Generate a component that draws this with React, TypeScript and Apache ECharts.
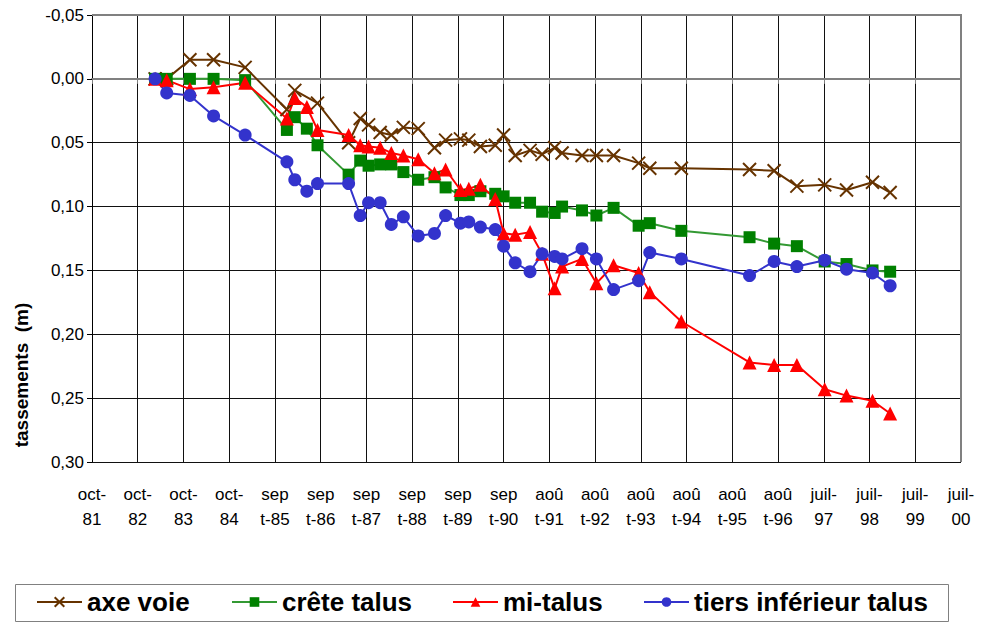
import React, { useEffect, useRef } from "react";
import * as echarts from "echarts";

// Tick labels of the date axis (one every 360 days from Oct 1981)
const tickLabels = [
  "oct-\n81", "oct-\n82", "oct-\n83", "oct-\n84",
  "sep\nt-85", "sep\nt-86", "sep\nt-87", "sep\nt-88", "sep\nt-89", "sep\nt-90",
  "aoû\nt-91", "aoû\nt-92", "aoû\nt-93", "aoû\nt-94", "aoû\nt-95", "aoû\nt-96",
  "juil-\n97", "juil-\n98", "juil-\n99", "juil-\n00",
];

// Survey dates (decimal years)
const surveyYears = [
  1983.16, 1983.41, 1983.91, 1984.42, 1985.10, 1986.00, 1986.17, 1986.43, 1986.66,
  1987.33, 1987.58, 1987.76, 1988.01, 1988.25, 1988.51, 1988.83, 1989.18, 1989.42,
  1989.74, 1989.92, 1990.17, 1990.49, 1990.67, 1990.92, 1991.24, 1991.50, 1991.77,
  1991.93, 1992.36, 1992.67, 1993.04, 1993.58, 1993.82, 1994.50, 1995.97, 1996.50,
  1996.99, 1997.59, 1998.06, 1998.62, 1999.00,
];

// Settlements (m)
const axeVoie = [
  0, 0, -0.015, -0.015, -0.009, 0.024, 0.009, null, 0.019,
  0.050, 0.031, 0.036, 0.042, 0.044, 0.038, 0.039, 0.054, 0.048,
  0.047, 0.048, 0.053, 0.052, 0.044, 0.060, 0.056, 0.059, 0.054,
  0.058, 0.060, 0.060, 0.060, 0.066, 0.070, 0.070, 0.071, 0.072,
  0.084, 0.083, 0.087, 0.081, 0.089,
];
const creteTalus = [
  0, 0, 0, 0, 0.001, 0.040, 0.030, 0.039, 0.052,
  0.075, 0.064, 0.068, 0.067, 0.067, 0.073, 0.079, 0.077, 0.085,
  0.091, 0.091, 0.088, 0.090, 0.092, 0.097, 0.097, 0.104, 0.105,
  0.100, 0.103, 0.107, 0.101, 0.115, 0.113, 0.119, 0.124, 0.129,
  0.131, 0.143, 0.145, 0.150, 0.151,
];
const miTalus = [
  0, 0.001, 0.008, 0.0065, 0.003, 0.031, 0.015, 0.022, 0.040,
  0.044, 0.052, 0.053, 0.054, 0.058, 0.060, 0.063, 0.074, 0.071,
  0.087, 0.086, 0.083, 0.094, 0.121, 0.122, 0.120, 0.137, 0.164,
  0.147, 0.141, 0.160, 0.146, 0.152, 0.167, 0.190, 0.222, 0.224,
  0.224, 0.243, 0.248, 0.252, 0.262,
];
const tiersInferieur = [
  0, 0.011, 0.013, 0.029, 0.044, 0.065, 0.079, 0.088, 0.082,
  0.082, 0.107, 0.097, 0.097, 0.114, 0.108, 0.123, 0.121, 0.107,
  0.113, 0.112, 0.116, 0.118, 0.131, 0.144, 0.151, 0.137, 0.139,
  0.141, 0.133, 0.141, 0.165, 0.158, 0.136, 0.141, 0.154, 0.143,
  0.147, 0.142, 0.149, 0.152, 0.162,
];

const seriesNames = ["axe voie", "crête talus", "mi-talus", "tiers inférieur talus"];

const START_YEAR = 1981.8;
const TICK_DAYS = 360;
const FONT = "'Liberation Sans', Arial, sans-serif";

const toDays = (y: number) => (y - START_YEAR) * 365.25;
const pairs = (values: (number | null)[]) =>
  surveyYears
    .map((y, i) => [toDays(y), values[i]] as [number, number | null])
    .filter((p) => p[1] !== null);

export default function App() {
  const ref = useRef<HTMLDivElement>(null);

  useEffect(() => {
    if (!ref.current) return;
    const chart = echarts.init(ref.current, null, { renderer: "svg" });

    const left = 92, top = 15, right = 961, bottom = 462;

    const legendCommon = {
      top: 589,
      itemWidth: 45,
      itemHeight: 12,
      itemGap: 0,
      padding: 0,
      textStyle: { fontSize: 26, fontWeight: "bold", color: "#000", fontFamily: FONT },
    };

    chart.setOption({
      animation: false,
      backgroundColor: "#fff",
      textStyle: { fontFamily: FONT },
      grid: { left, top, right: 981 - right, bottom: 623 - bottom, containLabel: false },
      xAxis: {
        type: "value",
        min: 0,
        max: TICK_DAYS * (tickLabels.length - 1),
        interval: TICK_DAYS,
        axisLine: { show: true, lineStyle: { color: "#808080", width: 2 } },
        axisTick: { show: true, length: 5, lineStyle: { color: "#808080" } },
        splitLine: { show: true, lineStyle: { color: "#111", width: 1 } },
        axisLabel: {
          formatter: (v: number) => tickLabels[Math.round(v / TICK_DAYS)] ?? "",
          fontSize: 17,
          lineHeight: 25,
          color: "#000",
          margin: 20,
          fontFamily: FONT,
          showMinLabel: true,
          showMaxLabel: true,
        },
      },
      yAxis: {
        type: "value",
        inverse: true,
        min: -0.05,
        max: 0.3,
        interval: 0.05,
        axisLine: { show: true, lineStyle: { color: "#000", width: 1 } },
        axisTick: { show: true, length: 5, lineStyle: { color: "#000" } },
        splitLine: { show: true, lineStyle: { color: "#111", width: 1 } },
        axisLabel: {
          formatter: (v: number) => v.toFixed(2).replace(".", ","),
          fontSize: 17,
          color: "#000",
          margin: 8,
          fontFamily: FONT,
        },
      },
      legend: [
        { ...legendCommon, left: 36, data: [seriesNames[0]] },
        { ...legendCommon, left: 231, data: [seriesNames[1]] },
        { ...legendCommon, left: 452, data: [seriesNames[2]] },
        { ...legendCommon, left: 643, data: [seriesNames[3]] },
      ],
      graphic: [
        {
          type: "polyline",
          silent: true,
          z: 10,
          shape: { points: [[left, top], [right, top], [right, bottom]] },
          style: { stroke: "#808080", lineWidth: 2, fill: "none" },
        },
        {
          type: "rect",
          silent: true,
          z: -1,
          shape: { x: 15.5, y: 584.5, width: 933, height: 37 },
          style: { stroke: "#808080", lineWidth: 1, fill: "#fff" },
        },
        {
          type: "text",
          silent: true,
          x: 21,
          y: 375,
          rotation: Math.PI / 2,
          style: {
            text: "tassements  (m)",
            fontSize: 19,
            fontWeight: "bold",
            fontFamily: FONT,
            fill: "#000",
            align: "center",
            verticalAlign: "middle",
          },
        },
      ],
      series: [
        {
          name: seriesNames[0],
          type: "line",
          data: pairs(axeVoie),
          symbol: "path://M0,0L10,10M10,0L0,10",
          symbolSize: 13,
          showAllSymbol: true,
          lineStyle: { color: "#663300", width: 2 },
          itemStyle: { color: "#663300", borderColor: "#663300", borderWidth: 2 },
        },
        {
          name: seriesNames[1],
          type: "line",
          data: pairs(creteTalus),
          symbol: "rect",
          symbolSize: 12,
          showAllSymbol: true,
          lineStyle: { color: "#339933", width: 2 },
          itemStyle: { color: "#008000" },
        },
        {
          name: seriesNames[2],
          type: "line",
          data: pairs(miTalus),
          symbol: "triangle",
          symbolSize: 14,
          showAllSymbol: true,
          lineStyle: { color: "#FF0000", width: 2 },
          itemStyle: { color: "#FF0000" },
        },
        {
          name: seriesNames[3],
          type: "line",
          data: pairs(tiersInferieur),
          symbol: "circle",
          symbolSize: 13,
          showAllSymbol: true,
          lineStyle: { color: "#3333CC", width: 2 },
          itemStyle: { color: "#3333CC" },
        },
      ],
    });

    return () => chart.dispose();
  }, []);

  return (
    <div
      ref={ref}
      style={{ position: "fixed", left: 0, top: 0, width: 981, height: 623, background: "#fff" }}
    />
  );
}
